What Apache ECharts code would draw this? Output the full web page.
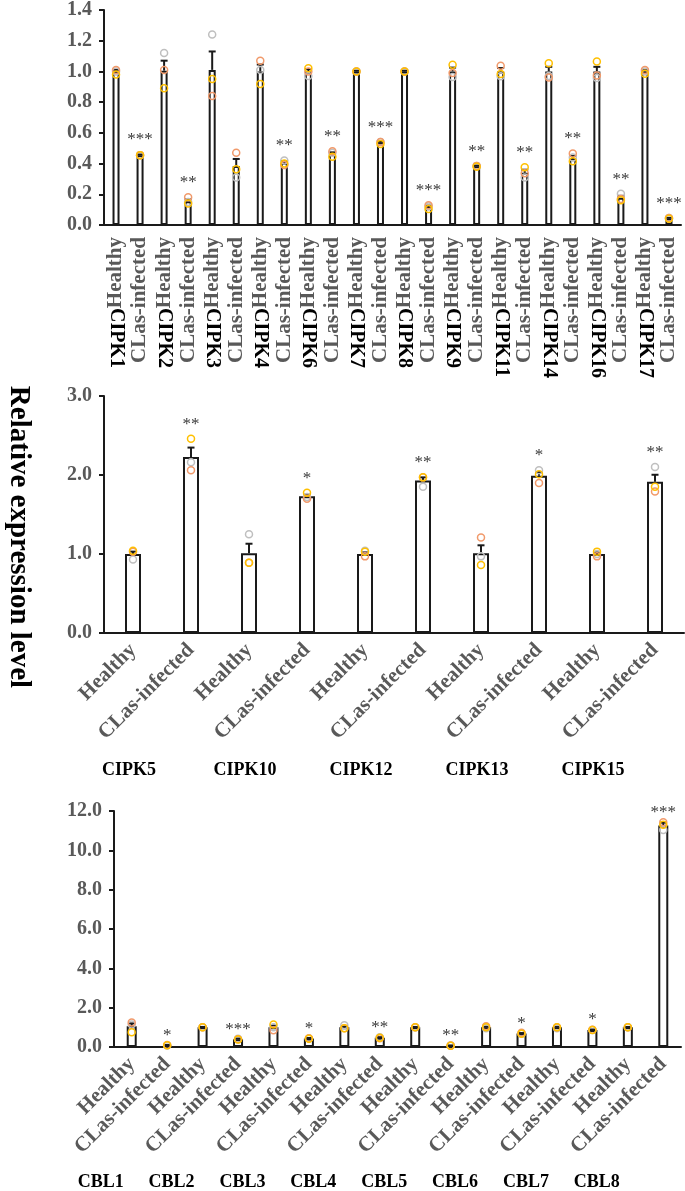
<!DOCTYPE html>
<html><head><meta charset="utf-8">
<script src="https://cdn.jsdelivr.net/npm/echarts@6/dist/echarts.min.js"></script>
<style>html,body{margin:0;padding:0;background:#fff}#c{width:685px;height:1191px}</style>
</head><body><div id="c"></div>
<script>
// ---------- data ----------
const groupNames = ['Healthy', 'CLas-infected'];

const topGenes = ['CIPK1','CIPK2','CIPK3','CIPK4','CIPK6','CIPK7','CIPK8','CIPK9','CIPK11','CIPK14','CIPK16','CIPK17'];
const topMeans = [1.00,0.455, 1.005,0.155, 1.01,0.385, 1.00,0.405, 1.00,0.465, 1.00,0.537, 1.00,0.118, 1.00,0.383, 1.00,0.34, 1.00,0.434, 1.00,0.178, 1.00,0.043];
const topErr   = [0.01,0.004, 0.065,0.012, 0.12,0.045, 0.045,0.01, 0.015,0.008, 0.005,0.005, 0.005,0.008, 0.025,0.004, 0.022,0.02, 0.03,0.015, 0.03,0.012, 0.008,0.004];
const topGray  = [1.00,0.455, 1.12,0.15, 1.24,0.31, 1.01,0.42, 0.97,0.47, 1.00,0.54, 1.00,0.12, 0.963,0.385, 0.968,0.31, 0.97,0.44, 0.957,0.204, 1.00,0.045];
const topOrange= [1.01,0.455, 1.01,0.18, 0.84,0.47, 1.07,0.39, 1.00,0.48, 1.00,0.54, 1.00,0.129, 0.99,0.385, 1.037,0.337, 0.961,0.466, 0.974,0.17, 1.01,0.045];
const topYellow= [0.98,0.455, 0.89,0.14, 0.95,0.363, 0.918,0.40, 1.02,0.445, 1.00,0.527, 1.00,0.105, 1.043,0.38, 0.983,0.376, 1.054,0.415, 1.065,0.161, 0.985,0.04];
const topSig   = ['','***', '','**', '','', '','**', '','**', '','***', '','***', '','**', '','**', '','**', '','**', '','***'];
const topTicks = [0, 1.4, 0.2];

const midGenes = ['CIPK5','CIPK10','CIPK12','CIPK13','CIPK15'];
const midMeans = [1.0,2.227, 1.01,1.73, 1.0,1.93, 1.01,1.99, 1.0,1.913];
const midErr   = [0.03,0.12, 0.12,0.02, 0.02,0.04, 0.1,0.045, 0.02,0.09];
const midGray  = [0.93,2.16, 1.25,1.72, 1.04,1.85, 0.97,2.06, 1.0,2.10];
const midOrange= [1.03,2.06, 0.89,1.70, 0.97,1.97, 1.21,1.90, 0.97,1.79];
const midYellow= [1.04,2.46, 0.89,1.775, 1.03,1.97, 0.86,2.01, 1.03,1.85];
const midSig   = ['','**', '','*', '','**', '','*', '','**'];
const midTicks = [0, 3, 1];

const botGenes = ['CBL1','CBL2','CBL3','CBL4','CBL5','CBL6','CBL7','CBL8'];
const botMeans = [1.05,0.09, 1.0,0.40, 1.0,0.43, 1.0,0.47, 1.0,0.07, 1.0,0.69, 1.0,0.87, 1.0,11.26];
const botErr   = [0.15,0.02, 0.02,0.03, 0.09,0.03, 0.05,0.03, 0.02,0.01, 0.04,0.02, 0.03,0.02, 0.02,0.15];
const botGray  = [1.15,0.08, 1.0,0.42, 1.0,0.43, 1.1,0.5, 1.0,0.07, 0.95,0.68, 0.95,0.86, 1.0,11.04];
const botOrange= [1.25,0.1, 1.0,0.40, 0.85,0.44, 0.95,0.45, 1.0,0.07, 1.05,0.72, 1.0,0.88, 1.0,11.43];
const botYellow= [0.75,0.09, 1.0,0.38, 1.15,0.42, 0.95,0.47, 1.0,0.06, 1.0,0.68, 1.0,0.87, 1.0,11.3];
const botSig   = ['','*', '','***', '','*', '','**', '','**', '','*', '','*', '','***'];
const botTicks = [0, 12, 2];

const yTitle = 'Relative expression level';

// ---------- styling ----------
const FONT = 'Liberation Serif';
const GRAY = '#595959';
const INK = '#1a1a1a';
const repColors = ['#bfbfbf', '#f19a6b', '#ffc000'];

function cats(n) { const a = []; for (let i = 0; i < n; i++) a.push(groupNames[i % 2]); return a; }

const panels = [
  { genes: topGenes, means: topMeans, err: topErr, reps: [topGray, topOrange, topYellow], sig: topSig, ticks: topTicks,
    grid: { left: 104, top: 9, width: 577, height: 216 }, barWidth: 7, starDist: 6, rot: 90, margin: 12,
    geneRot: -90, geneOffset: 0, geneMargin: 83, genePad: 0 },
  { genes: midGenes, means: midMeans, err: midErr, reps: [midGray, midOrange, midYellow], sig: midSig, ticks: midTicks,
    grid: { left: 104, top: 396, width: 580, height: 237 }, barWidth: 16, starDist: 6, rot: 45, margin: 14,
    geneRot: 0, geneOffset: 120, geneMargin: 8, genePad: 8 },
  { genes: botGenes, means: botMeans, err: botErr, reps: [botGray, botOrange, botYellow], sig: botSig, ticks: botTicks,
    grid: { left: 114, top: 811, width: 567, height: 237 }, barWidth: 10, starDist: 1, rot: 45, margin: 14,
    geneRot: 0, geneOffset: 118, geneMargin: 8, genePad: 62 }
];

const grid = [], xAxis = [], yAxis = [], series = [];
panels.forEach((p, gi) => {
  const n = p.means.length;
  grid.push(p.grid);
  const xi = xAxis.length;
  xAxis.push({
    type: 'category', gridIndex: gi, data: cats(n),
    axisLine: { lineStyle: { color: INK, width: 2 } }, axisTick: { show: false },
    axisLabel: { interval: 0, rotate: p.rot, margin: p.margin, color: GRAY, fontFamily: FONT, fontWeight: 'bold', fontSize: 21 }
  });
  xAxis.push({
    type: 'category', gridIndex: gi, data: cats(n), position: 'bottom', offset: p.geneOffset,
    axisLine: { show: false }, axisTick: { show: false },
    axisLabel: {
      interval: 0, rotate: p.geneRot, margin: p.geneMargin, color: '#000', fontFamily: FONT, fontWeight: 'bold',
      fontSize: gi === 0 ? 20 : 18, padding: [0, p.genePad, 0, 0],
      formatter: (v, i) => i % 2 === 0 ? p.genes[i / 2] : ''
    }
  });
  yAxis.push({
    type: 'value', gridIndex: gi, min: p.ticks[0], max: p.ticks[1], interval: p.ticks[2],
    splitLine: { show: false },
    axisLine: { show: true, lineStyle: { color: INK, width: 2 } },
    axisTick: { show: true, length: 5, lineStyle: { color: INK, width: 2 } },
    axisLabel: { color: GRAY, fontFamily: FONT, fontWeight: 'bold', fontSize: 20, margin: 12,
      formatter: v => v.toFixed(1) }
  });
  // bars
  series.push({
    type: 'bar', xAxisIndex: xi, yAxisIndex: gi, data: p.means, barWidth: p.barWidth,
    itemStyle: { color: '#fff', borderColor: INK, borderWidth: 2 }, z: 2, silent: true
  });
  // error bars
  series.push({
    type: 'custom', xAxisIndex: xi, yAxisIndex: gi, z: 3,
    data: p.means.map((m, i) => [i, m, m + p.err[i]]),
    renderItem: (params, api) => {
      const a = api.coord([api.value(0), api.value(1)]);
      const b = api.coord([api.value(0), api.value(2)]);
      const w = 3.5;
      return { type: 'group', children: [
        { type: 'line', shape: { x1: a[0], y1: a[1], x2: b[0], y2: b[1] }, style: { stroke: INK, lineWidth: 2 } },
        { type: 'line', shape: { x1: b[0] - w, y1: b[1], x2: b[0] + w, y2: b[1] }, style: { stroke: INK, lineWidth: 2 } }
      ] };
    }
  });
  // replicate points
  p.reps.forEach((arr, ri) => {
    series.push({
      type: 'scatter', xAxisIndex: xi, yAxisIndex: gi, z: 4, silent: true,
      data: arr.map((v, i) => [i, v]), symbol: 'circle', symbolSize: 7,
      itemStyle: { color: 'rgba(255,255,255,0)', borderColor: repColors[ri], borderWidth: 1.5, opacity: 1 }
    });
  });
  // significance stars
  series.push({
    type: 'scatter', xAxisIndex: xi, yAxisIndex: gi, z: 5, symbolSize: 0, silent: true,
    data: p.means.map((m, i) => [i, Math.max(m + p.err[i], p.reps[0][i], p.reps[1][i], p.reps[2][i])]),
    label: { show: true, position: 'top', distance: p.starDist, color: '#000', fontFamily: FONT, fontSize: 17,
      formatter: prm => p.sig[prm.dataIndex] }
  });
});

const chart = echarts.init(document.getElementById('c'), null, { renderer: 'canvas' });
chart.setOption({
  animation: false,
  backgroundColor: '#fff',
  grid, xAxis, yAxis, series,
  graphic: [
    { type: 'text', x: 18, y: 537, rotation: -Math.PI / 2, z: 100,
      style: { text: yTitle, fontFamily: FONT, fontWeight: 'bold', fontSize: 29, fill: '#000',
        align: 'center', verticalAlign: 'middle' } }
  ]
});
</script></body></html>
